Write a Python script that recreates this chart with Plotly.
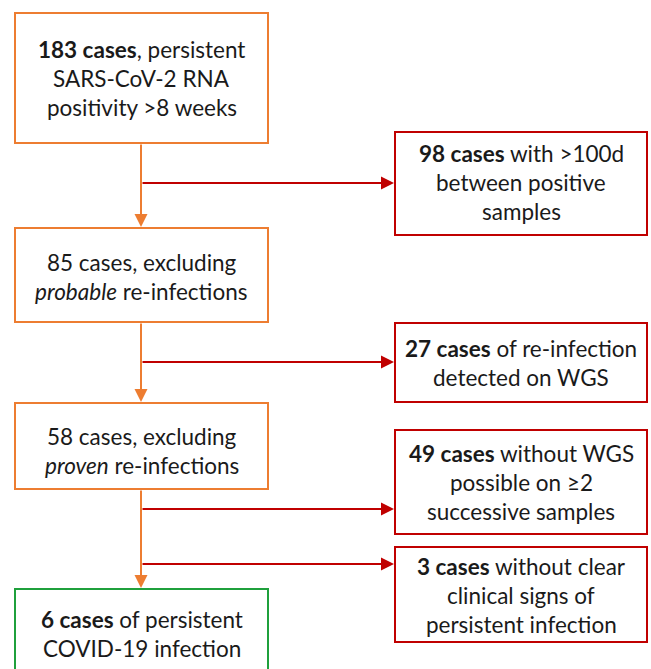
import plotly.graph_objects as go

W, H = 651, 669

ORANGE = "#ED7D31"
RED = "#C00000"
GREEN = "#1FA03C"
TXT = "#1a1a1a"

# Main flow (orange / green boxes)
main_counts = [183, 85, 58, 6]
main_lines = [
    ["<b>183 cases</b>, persistent", "SARS-CoV-2 RNA", "positivity >8 weeks"],
    ["85 cases, excluding", "<i>probable</i> re-infections"],
    ["58 cases, excluding", "<i>proven</i> re-infections"],
    ["<b>6 cases</b> of persistent", "COVID-19 infection"],
]
# Exclusion boxes (red)
excl_counts = [98, 27, 49, 3]
excl_lines = [
    ["<b>98 cases</b> with >100d", "between positive", "samples"],
    ["<b>27 cases</b> of re-infection", "detected on WGS"],
    ["<b>49 cases</b> without WGS", "possible on ≥2", "successive samples"],
    ["<b>3 cases</b> without clear", "clinical signs of", "persistent infection"],
]

# layout geometry (pixels)
main_x0, main_x1 = 15, 268
main_boxes = [(13, 143), (228, 322), (403, 489), (589, 690)]
main_colors = [ORANGE, ORANGE, ORANGE, GREEN]
main_text_cy = [78, 277, 451, 634]

ex_x0, ex_x1 = 395, 647
ex_boxes = [(132, 235), (323, 402), (430, 534), (547, 642)]
ex_text_cy = [182, 363, 482, 595]
ex_arrow_y = [183, 362, 509, 564]

spine_x = 141
LS = 29  # line spacing
FONT = "Lato"
FS = 22.5

fig = go.Figure()
shapes = []
annotations = []

for (y0, y1), col in zip(main_boxes, main_colors):
    shapes.append(dict(type="rect", x0=main_x0, x1=main_x1, y0=y0, y1=y1,
                       line=dict(color=col, width=2), fillcolor="white", layer="above"))
for (y0, y1) in ex_boxes:
    shapes.append(dict(type="rect", x0=ex_x0, x1=ex_x1, y0=y0, y1=y1,
                       line=dict(color=RED, width=2), fillcolor="white", layer="above"))


def add_lines(lines, cx, cy):
    n = len(lines)
    for i, t in enumerate(lines):
        y = cy + (i - (n - 1) / 2) * LS
        annotations.append(dict(x=cx, y=y, xref="x", yref="y", text=t, showarrow=False,
                                xanchor="center", yanchor="middle",
                                font=dict(family=FONT, size=FS, color=TXT)))


for lines, cy in zip(main_lines, main_text_cy):
    add_lines(lines, (main_x0 + main_x1) / 2, cy)
for lines, cy in zip(excl_lines, ex_text_cy):
    add_lines(lines, (ex_x0 + ex_x1) / 2, cy)

# orange vertical arrows between main boxes
for i in range(len(main_boxes) - 1):
    y_start = main_boxes[i][1]
    y_end = main_boxes[i + 1][0]
    annotations.append(dict(x=spine_x, y=y_end - 1, ax=spine_x, ay=y_start,
                            xref="x", yref="y", axref="x", ayref="y", text="",
                            showarrow=True, arrowhead=2, arrowsize=1.3, arrowwidth=2,
                            arrowcolor=ORANGE, standoff=0, startstandoff=0))

# red horizontal arrows to exclusion boxes
for ay in ex_arrow_y:
    annotations.append(dict(x=ex_x0 - 1, y=ay, ax=spine_x, ay=ay,
                            xref="x", yref="y", axref="x", ayref="y", text="",
                            showarrow=True, arrowhead=2, arrowsize=1.3, arrowwidth=2,
                            arrowcolor=RED, standoff=0, startstandoff=0))

fig.update_layout(
    width=W, height=H,
    margin=dict(l=0, r=0, t=0, b=0),
    paper_bgcolor="white", plot_bgcolor="white",
    xaxis=dict(range=[0, W], visible=False, fixedrange=True),
    yaxis=dict(range=[H, 0], visible=False, fixedrange=True),
    shapes=shapes, annotations=annotations, showlegend=False,
)

fig.write_html("out.html", config={"displayModeBar": False},
               post_script="document.body.style.margin='0';document.body.style.overflow='hidden';")
